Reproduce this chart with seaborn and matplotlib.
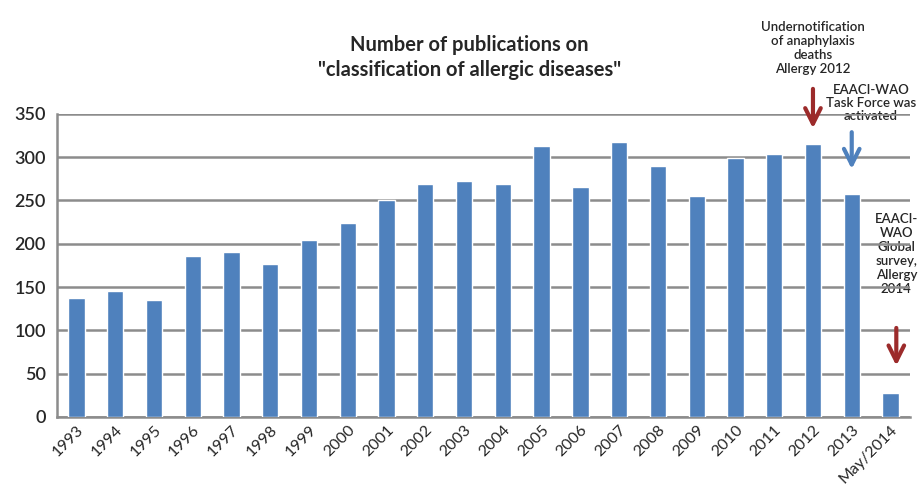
import matplotlib
matplotlib.use("Agg")
import matplotlib.pyplot as plt
import seaborn as sns
import pandas as pd

# данные
years = ["1993", "1994", "1995", "1996", "1997", "1998", "1999", "2000", "2001", "2002", "2003",
         "2004", "2005", "2006", "2007", "2008", "2009", "2010", "2011", "2012", "2013", "May/2014"]
publications = [137, 145, 135, 186, 190, 177, 204, 224, 250, 269, 273,
                269, 313, 265, 318, 290, 255, 299, 304, 315, 258, 28]
y_ticks = [0, 50, 100, 150, 200, 250, 300, 350]

data = pd.DataFrame({"year": years, "count": publications})

sns.set_style("white")
plt.rcParams["font.family"] = ["Lato", "DejaVu Sans"]

fig = plt.figure(figsize=(9.2, 4.97), dpi=100)
ax = fig.add_axes([0.062, 0.161, 0.927, 0.610])

grid_col = "#8c8c8c"
sns.barplot(data=data, x="year", y="count", color="#4F81BD", width=0.42,
            saturation=1, ax=ax, zorder=3)

ax.set_ylim(0, 350)
ax.set_xlim(-0.5, len(years) - 0.5)
ax.set_yticks(y_ticks)
ax.yaxis.grid(True, color=grid_col, linewidth=1.8, zorder=0)
ax.set_axisbelow(True)
ax.set_xlabel("")
ax.set_ylabel("")

for side in ["top", "right"]:
    ax.spines[side].set_visible(False)
for side in ["left", "bottom"]:
    ax.spines[side].set_color(grid_col)
    ax.spines[side].set_linewidth(1.8)

# деления снизу между категориями
ax.set_xticks([i - 0.5 for i in range(len(years) + 1)], minor=True)
ax.tick_params(axis="x", which="minor", length=6, width=1.5, color=grid_col, direction="out")
ax.tick_params(axis="x", which="major", length=0, pad=4)
ax.tick_params(axis="y", length=6, width=1.5, color=grid_col, labelsize=13, pad=2)
ax.set_xticks(range(len(years)))
ax.set_xticklabels(years, rotation=45, ha="right", rotation_mode="anchor", fontsize=11.5)
for lbl in ax.get_yticklabels():
    lbl.set_fontweight("semibold")

fig.text(0.51, 0.885, 'Number of publications on\n"classification of allergic diseases"',
         ha="center", va="center", fontsize=14.5, fontweight="bold", linespacing=1.3)

red = "#9C2B2B"
blue = "#4F81BD"
ax.annotate("", xy=(19, 330), xytext=(19, 382),
            arrowprops=dict(arrowstyle="->", color=red, lw=3, mutation_scale=28),
            annotation_clip=False)
ax.text(19, 395, "Undernotification\nof anaphylaxis\ndeaths\nAllergy 2012",
        ha="center", va="bottom", fontsize=9.5, fontweight="semibold",
        linespacing=1.2, clip_on=False)

ax.annotate("", xy=(20, 283), xytext=(20, 332),
            arrowprops=dict(arrowstyle="->", color=blue, lw=3, mutation_scale=28),
            annotation_clip=False, zorder=5)
ax.text(20.5, 341, "EAACI-WAO\nTask Force was\nactivated",
        ha="center", va="bottom", fontsize=9.5, fontweight="semibold",
        linespacing=1.1, clip_on=False, zorder=0.2)

ax.annotate("", xy=(21.15, 56), xytext=(21.15, 106),
            arrowprops=dict(arrowstyle="->", color=red, lw=3, mutation_scale=28),
            annotation_clip=False, zorder=5)
ax.text(21.15, 188, "EAACI-\nWAO\nGlobal\nsurvey,\nAllergy\n2014",
        ha="center", va="center", fontsize=9.5, fontweight="semibold",
        linespacing=1.2, clip_on=False, zorder=0.2)

fig.savefig("out.png", dpi=100)
plt.close(fig)
